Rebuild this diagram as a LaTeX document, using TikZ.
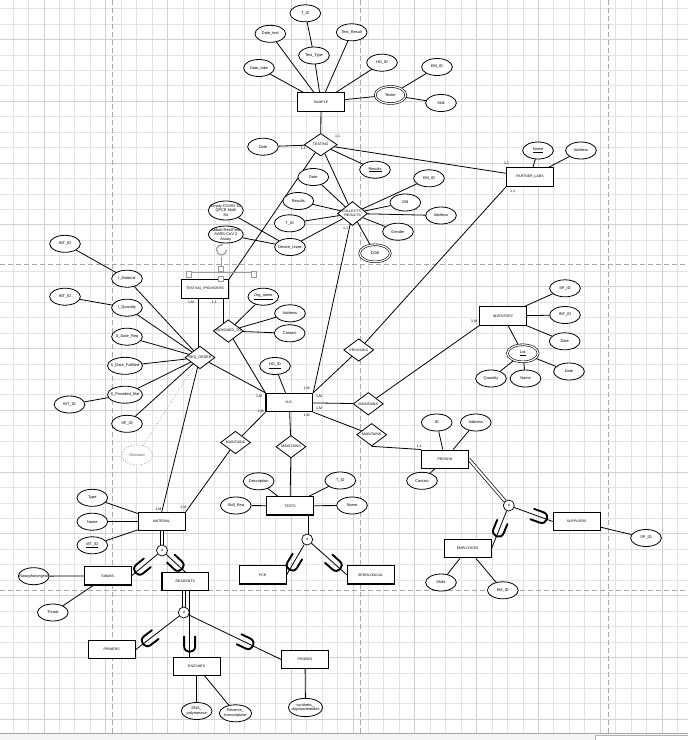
\documentclass[tikz,border=0pt]{standalone}
\usepackage{fontspec}
\setmainfont{Liberation Sans}
\usetikzlibrary{shapes.geometric,calc,arrows.meta}
\pgfdeclarelayer{gridl}
\pgfdeclarelayer{edges}
\pgfsetlayers{gridl,edges,main}
\definecolor{gridminor}{HTML}{E3E3E3}
\definecolor{gridmajor}{HTML}{D0D0D0}
\definecolor{pagebrk}{HTML}{A8A8A8}
\definecolor{handlecol}{HTML}{9A9A9A}
\newcommand\entfont{\fontsize{3.5}{4.2}\selectfont}
\newcommand\attrfont{\fontsize{3.9}{4.5}\selectfont}
\newcommand\relfont{\fontsize{3.6}{4.3}\selectfont}
\newcommand\eerU[2]{\begin{scope}[shift={#1},rotate=#2]\draw[subsetmark] (7.75,-5.5) -- (-2.25,-5.5) .. controls (-9.55,-5.5) and (-9.55,5.5) .. (-2.25,5.5) -- (7.75,5.5);\end{scope}}
\tikzset{
  ent/.style={draw, rectangle, fill=white, line width=1.1pt, minimum width=46.7pt, minimum height=18.3pt, inner sep=0pt, font=\entfont},
  attr/.style={draw, ellipse, fill=white, line width=0.8pt, minimum width=30.7pt, minimum height=17pt, inner sep=-4pt, font=\attrfont, align=center},
  dblell/.style={double, double distance=1.2pt, line width=0.6pt},
  dotell/.style={draw=gray, dotted, line width=0.6pt, text=gray!70!black, minimum height=20pt},
  rel/.style={draw, diamond, fill=white, line width=0.8pt, aspect=1.3, minimum width=30pt, minimum height=22.5pt, inner sep=-2pt, font=\relfont, align=center},
  dcirc/.style={draw, circle, fill=white, line width=0.7pt, minimum size=11pt, inner sep=0pt, font=\relfont},
  card/.style={inner sep=0pt, font=\relfont},
  ln/.style={line width=0.8pt},
  dbl/.style={double, double distance=2pt, line width=0.7pt},
  dotln/.style={draw=gray, dotted, line width=0.6pt},
  subsetmark/.style={line width=1.9pt, line cap=round},
  hdl/.style={draw=handlecol, fill=white, line width=0.6pt}
}
\begin{document}
\begin{tikzpicture}[x=1pt,y=-1pt]
\useasboundingbox (0,0) rectangle (688,740);
\begin{pgfonlayer}{gridl}
\fill[white] (0,0) rectangle (688,740);
\foreach \gx in {12.9,28.35,...,688} {\draw[draw=gridminor,line width=0.5pt] (\gx,0) -- (\gx,733.5);}
\foreach \gy in {8.4,23.85,...,733} {\draw[draw=gridminor,line width=0.5pt] (0,\gy) -- (688,\gy);}
\foreach \gx in {43.8,105.6,...,688} {\draw[draw=gridmajor,line width=0.6pt] (\gx,0) -- (\gx,733.5);}
\foreach \gy in {39.3,101.1,...,733} {\draw[draw=gridmajor,line width=0.6pt] (0,\gy) -- (688,\gy);}
\foreach \gx in {112.7,360.7,608.3} {\draw[draw=pagebrk,line width=0.8pt,dash pattern=on 5pt off 3pt] (\gx,0) -- (\gx,733.5);}
\foreach \gy in {264,590} {\draw[draw=pagebrk,line width=0.8pt,dash pattern=on 5pt off 3pt] (0,\gy) -- (688,\gy);}
\fill[gray!8] (0,733.5) rectangle (688,740);
\draw[draw=gray!70,line width=0.8pt] (0,733.5) -- (688,733.5);
\draw[draw=gray!60,fill=white,line width=0.5pt] (595,735) rectangle (688,741);
\end{pgfonlayer}

% entities
\node[ent] (SAMPLE) at (321,102) {SAMPLE};
\node[ent] (PL) at (530,177) {PARTNER\_LABS};
\node[ent] (TP) at (205,289) {TESTING\_PROVIDERS};
\node[ent] (INV) at (503,316) {INVENTORY};
\node[ent] (HO) at (289.3,402.5) {H.O.};
\node[ent] (PERSON) at (445,459.2) {PERSON};
\node[ent] (SUP) at (576.7,521.5) {SUPPLIERS};
\node[ent] (EMP) at (467.7,548.5) {EMPLOYEES};
\node[ent] (TESTS) at (290,505.8) {TESTS};
\node[ent] (PCR) at (262.7,574.8) {PCR};
\node[ent] (SERO) at (370.7,574.8) {SEROLOGICAL};
\node[ent] (MAT) at (161.7,521.7) {MATERIAL};
\node[ent] (SWABS) at (107.7,575.8) {SWABS};
\node[ent] (REAG) at (185.3,581.7) {REAGENTS};
\node[ent] (PRIM) at (111.7,649.7) {PRIMERS};
\node[ent] (ENZ) at (196.7,666.2) {ENZYMES};
\node[ent] (PROBES) at (305,659.5) {PROBES};

% relationships
\node[rel, minimum width=33pt] (TESTING) at (320.7,144.7) {TESTING};
\node[rel, minimum height=24pt] (CR) at (352.5,213.5) {COLLECTS\_\\RESULTS};
\node[rel] (AT) at (228.3,331) {ASSIGNED\_TO};
\node[rel] (RO) at (200,357.5) {REQ\_ORDER};
\node[rel] (PROV) at (358.7,350) {PROVIDES};
\node[rel] (M1) at (368.3,403.8) {MAINTAINS};
\node[rel] (M2) at (371.7,434.7) {MAINTAINS};
\node[rel] (M3) at (291,446.7) {MAINTAINS};
\node[rel] (M4) at (235.5,442.5) {MAINTAINS};

% specialisation circles
\node[dcirc] (cM) at (162,550.5) {d};
\node[dcirc] (cR) at (183.8,612.5) {d};
\node[dcirc] (cT) at (307.2,539.5) {d};
\node[dcirc] (cP) at (508.8,505.5) {d};

% attributes
\node[attr] (aTID) at (305.3,13.3) {T\_ID};
\node[attr] (aDtest) at (270.3,33.8) {Date\_test};
\node[attr] (aTres) at (351.7,32.3) {Test\_Result};
\node[attr] (aTtype) at (314,55.5) {Test\_Type};
\node[attr] (aDtake) at (259,68) {Date\_take};
\node[attr] (aHOID) at (382,62.7) {HO\_ID};
\node[attr] (aEMID1) at (437,67) {EM\_ID};
\node[attr,dblell] (aTester) at (390.5,95) {Tester};
\node[attr] (aSkill) at (441,103) {Skill};
\node[attr] (aDate1) at (263,146.7) {Date};
\node[attr] (aRes1) at (375,169.7) {\underline{Results}};
\node[attr] (aPLName) at (538,150.5) {\underline{Name}};
\node[attr] (aPLAddr) at (581,150.5) {Address};
\node[attr] (aCRDate) at (313.3,177) {Date};
\node[attr] (aCRRes) at (298.3,201) {Results};
\node[attr] (aCRTID) at (289.7,223.3) {T\_ID};
\node[attr] (aDev) at (290,247) {Device\_Used};
\node[attr] (aEMID2) at (429,178.3) {EM\_ID};
\node[attr] (aSIN) at (405.3,202.5) {SIN};
\node[attr] (aAddr2) at (441,215.5) {Address};
\node[attr] (aGender) at (398,231.7) {Gender};
\node[attr,dblell] (aDOB) at (375,253.3) {DOB};
\node[attr,minimum width=35pt,minimum height=19pt] (aKit1) at (225.8,210.5) {Empty COVID-19\\QPCR Multi\\Kit};
\node[attr,minimum width=35pt,minimum height=17pt] (aKit2) at (225.8,234.5) {Abbott RealTime\\SARS-CoV-2\\Assay};
\node[attr] (aOrg) at (263.3,296.7) {\underline{Org\_name}};
\node[attr] (aATAddr) at (290,313.3) {Address};
\node[attr] (aATCont) at (289.7,333.3) {Contact};
\node[attr] (aISP) at (565,288.3) {SP\_ID};
\node[attr] (aIINT) at (565,315) {INT\_ID};
\node[attr] (aIDate) at (564.7,341.3) {Date};
\node[attr,dblell] (aLot) at (522.8,353.3) {\underline{Lot}};
\node[attr] (aQty) at (491,378.5) {Quantity};
\node[attr] (aLName) at (525.5,378.5) {Name};
\node[attr] (aLDate) at (569,371.5) {Date};
\node[attr] (aINT1) at (65,243.8) {INT\_ID};
\node[attr] (aIMat) at (127,278.7) {I\_Material};
\node[attr] (aINT2) at (65,296.7) {INT\_ID};
\node[attr] (aIQty) at (127,307.7) {I\_Quantity};
\node[attr] (aSDR) at (127,336.7) {S\_Date\_Req};
\node[attr,minimum width=35pt] (aSDF) at (125,365.8) {S\_Date\_Fulfilled};
\node[attr,minimum width=35pt] (aSPM) at (125,394.7) {S\_Provided\_Mat};
\node[attr] (aINT3) at (69.5,404.5) {INT\_ID};
\node[attr] (aSPID) at (127,423.8) {SP\_ID};
\node[attr,dotell] (aDisc) at (137,455) {Discount};
\node[attr] (aHOID2) at (275,366) {\underline{HO\_ID}};
\node[attr] (aID) at (436.7,422.5) {ID};
\node[attr] (aPAddr) at (475.8,422.5) {Address};
\node[attr] (aPCont) at (422,480.8) {Contact};
\node[attr] (aSPID2) at (646,538) {SP\_ID};
\node[attr] (aSkills) at (441,582.5) {Skills};
\node[attr] (aEMID3) at (502.8,590.3) {EM\_ID};
\node[attr] (aDesc) at (258.7,481.3) {Description};
\node[attr] (aTTID) at (340.3,480.5) {T\_ID};
\node[attr] (aSkReq) at (235.8,505.5) {Skill\_Req};
\node[attr] (aTName) at (352,505.5) {Name};
\node[attr] (aType) at (92.3,497.8) {Type};
\node[attr] (aMName) at (92.3,521.7) {Name};
\node[attr] (aMTID) at (92.3,545.3) {\underline{MT\_ID}};
\node[attr] (aNaso) at (33.7,576.2) {Nasopharyngeal};
\node[attr] (aThroat) at (52.8,612.5) {Throat};
\node[attr] (aDNA) at (196.7,711) {DNA\_\\polymerase};
\node[attr,minimum width=32.3pt] (aRT) at (235.5,713.3) {Reverse\_\\transcriptase};
\node[attr,minimum width=34.3pt,minimum height=18.3pt] (aSyn) at (305.5,707.5) {synthetic\_\\oligonucleotides};

% cardinalities
\node[card] (k1) at (337.7,136) {1,1};
\node[card] (k2) at (303.3,148) {1,1};
\node[card] (k3) at (506.7,163.3) {1,1};
\node[card] (k4) at (512.7,191) {1,1};
\node[card] (k5) at (345.7,228.3) {1,1};
\node[card] (k6) at (191,302.7) {1,M};
\node[card] (k7) at (214.3,302.7) {1,1};
\node[card] (k8) at (474,321) {1,M};
\node[card] (k9) at (306.7,388.3) {1,M};
\node[card] (k10) at (319,396.7) {1,M};
\node[card] (k11) at (319,408.3) {1,M};
\node[card] (k12) at (306.7,415.3) {1,M};
\node[card] (k13) at (259,396.7) {1,M};
\node[card] (k14) at (260.7,411) {1,M};
\node[card] (k15) at (419.3,446.7) {1,1};
\node[card] (k16) at (158.3,509) {1,M};
\node[card] (k17) at (183.3,507.3) {1,M};

\coordinate (eT) at (cR.east |- REAG.south);
\coordinate (eB) at (cR.east |- ENZ.north);

\begin{pgfonlayer}{edges}
\draw[ln] (aTID) -- (aTtype);
\draw[ln] (aTtype) -- (SAMPLE);
\draw[ln] (aDtest) -- (SAMPLE);
\draw[ln] (aTres) -- (SAMPLE);
\draw[ln] (aDtake) -- (SAMPLE);
\draw[ln] (aHOID) -- (SAMPLE);
\draw[ln] (SAMPLE) -- (aTester);
\draw[ln] (aTester) -- (aEMID1);
\draw[ln] (aTester) -- (aSkill);
\draw[ln] (SAMPLE) -- (TESTING);
\draw[ln] (aDate1) -- (TESTING);
\draw[ln] (TESTING) -- (aRes1);
\draw[ln] (TESTING) -- (PL);
\draw[ln] (TESTING) -- (TP.north east);
\draw[ln] (TESTING) -- (CR);
\draw[ln] (PL) -- (aPLName);
\draw[ln] (PL) -- (aPLAddr);
\draw[ln] (PL.south west) -- (PROV);
\draw[ln] (aCRDate) -- (CR);
\draw[ln] (aCRRes) -- (CR);
\draw[ln] (aCRTID) -- (CR);
\draw[ln] (aDev) -- (CR);
\draw[ln] (CR) -- (aEMID2);
\draw[ln] (CR) -- (aSIN);
\draw[ln] (CR) -- (aAddr2);
\draw[ln] (CR) -- (aGender);
\draw[ln] (CR) -- (aDOB);
\draw[ln] (CR) -- (HO.north east);
\draw[ln] (aKit1) -- (aDev);
\draw[ln] (aKit2) -- (aDev);
\draw[ln] ([xshift=-2pt]TP.south -| RO.center) -- ([xshift=-2pt]RO.center);
\draw[ln] ([xshift=-6pt]TP.south east) -- ([xshift=-6pt]TP.south east |- AT.center);
\draw[ln] (aIMat) -- (RO);
\draw[ln] (aIQty) -- (RO);
\draw[ln] (aSDR) -- (RO);
\draw[ln] (aSDF) -- (RO);
\draw[ln] (aSPM) -- (RO);
\draw[ln] (aSPID) -- (RO);
\draw[dotln] (aDisc) -- (RO);
\draw[ln] (aINT1) -- (aIMat);
\draw[ln] (aINT2) -- (aIQty);
\draw[ln] (aINT3) -- (aSPM);
\draw[ln] (RO) -- (HO.north west);
\draw[ln] (RO) -- (MAT.north);
\draw[ln] (AT) -- (aOrg);
\draw[ln] (AT) -- (aATAddr);
\draw[ln] (AT) -- (aATCont);
\draw[ln] (AT) -- (HO.north west);
\draw[ln] (HO) -- (aHOID2);
\draw[ln] (HO.north east) -- (PROV);
\draw[ln] (HO) -- (M1);
\draw[ln] (HO.south east) -- (M2);
\draw[ln] (HO) -- (M3);
\draw[ln] (HO.south west) -- (M4);
\draw[ln] (M1) -- (INV.south west);
\draw[ln] (M2.south) -- (PERSON.north west);
\draw[ln] (M3) -- (TESTS);
\draw[ln] (M4) -- (MAT.north east);
\draw[ln] (INV) -- (aISP);
\draw[ln] (INV) -- (aIINT);
\draw[ln] (INV) -- (aIDate);
\draw[ln] (INV) -- (aLot);
\draw[ln] (aLot) -- (aQty);
\draw[ln] (aLot) -- (aLName);
\draw[ln] (aLot) -- (aLDate);
\draw[ln] (PERSON) -- (aID);
\draw[ln] (PERSON) -- (aPAddr);
\draw[ln] (PERSON) -- (aPCont);
\draw[dbl] (PERSON.east) -- (cP);
\draw[ln] (cP) -- (SUP.west);
\draw[ln] (cP) -- (EMP.east);
\draw[ln] (SUP) -- (aSPID2);
\draw[ln] (EMP) -- (aSkills);
\draw[ln] (EMP) -- (aEMID3);
\draw[ln] (TESTS) -- (aDesc);
\draw[ln] (TESTS) -- (aTTID);
\draw[ln] (TESTS) -- (aSkReq);
\draw[ln] (TESTS) -- (aTName);
\draw[dbl] (cT |- TESTS.south) -- (cT);
\draw[ln] (cT) -- (PCR.east);
\draw[ln] (cT) -- (SERO.west);
\draw[ln] (MAT) -- (aType);
\draw[ln] (MAT) -- (aMName);
\draw[ln] (MAT) -- (aMTID);
\draw[dbl] (cM |- MAT.south) -- (cM);
\draw[ln] (cM) -- (SWABS.east);
\draw[ln] (cM) -- (REAG.north);
\draw[ln] (SWABS) -- (aNaso);
\draw[ln] (SWABS) -- (aThroat);
\draw[dbl] (cR |- REAG.south) -- (cR);
\draw[ln] (eT) -- (eB);
\draw[ln] (cR) -- (PRIM.east);
\draw[ln] (cR) -- (PROBES.west);
\draw[ln] (ENZ.south -| aDNA) -- (aDNA);
\draw[ln] (ENZ) -- (aRT);
\draw[ln] (PROBES) -- (aSyn);
\end{pgfonlayer}

% subset marks
\eerU{($(cP)!0.70!(SUP.west)$)}{160.2}
\eerU{($(cP)!0.55!(EMP.east)$)}{67.5}
\eerU{($(cM)!0.68!(SWABS.east)$)}{39.2}
\eerU{($(cM)!0.62!(REAG.north)$)}{136.9}
\eerU{($(cR)!0.72!(PRIM.east)$)}{37.3}
\eerU{($(eT)!0.81!(eB)$)}{90}
\eerU{($(cR)!0.64!(PROBES.west)$)}{154.4}
\eerU{($(cT)!0.67!(PCR.east)$)}{59}
\eerU{($(cT)!0.69!(SERO.west)$)}{138.6}

% selection handles (editor overlay)
\draw[draw=handlecol,line width=0.5pt] (189,272.5) -- (254,272.5);
\draw[draw=handlecol,line width=0.5pt] (220.8,257) -- (220.8,266.7);
\draw[hdl] (186.7,271.7) rectangle (191.7,277.3);
\draw[hdl] (251.7,271.7) rectangle (256.7,277.3);
\draw[hdl] (218.3,266.7) rectangle (223.3,271.7);
\draw[hdl] (218.3,276) rectangle (223.3,281.7);
\draw[draw=handlecol,line width=1.2pt,-{Latex[length=2.2pt,width=2.8pt]}] (226.5,250) arc[start angle=0, end angle=290, radius=5];
\end{tikzpicture}
\end{document}
